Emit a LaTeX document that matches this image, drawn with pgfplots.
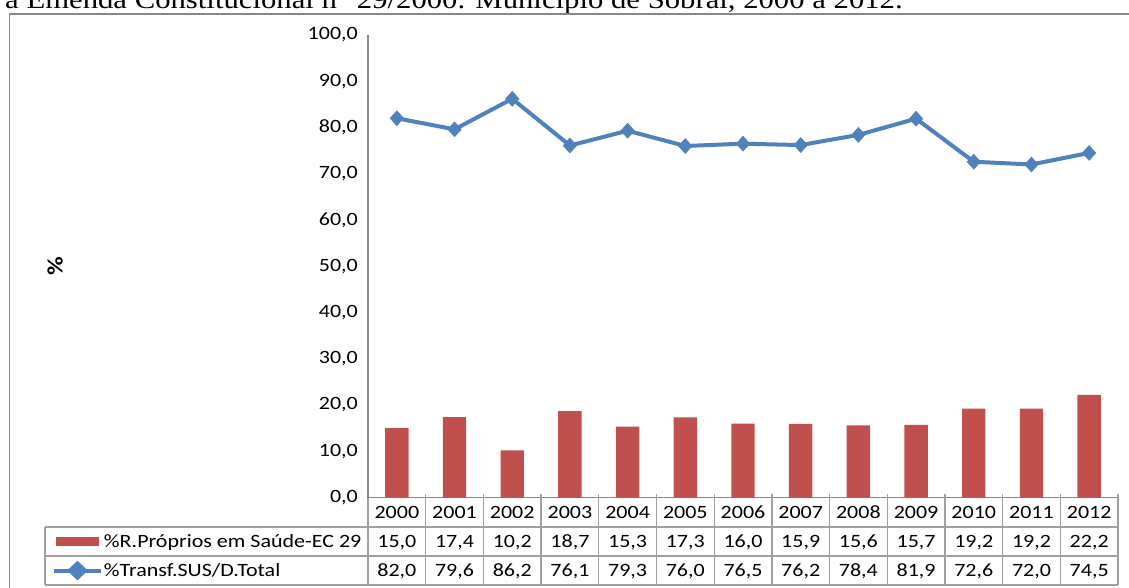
\documentclass[border=0pt]{standalone}
\usepackage{fontspec}
\setmainfont{Carlito}[FakeStretch=1.17]
\newfontfamily\titlefont{Liberation Serif}[FakeStretch=1.15]
\usepackage{pgfplots}
\usepackage{pgfplotstable}
\pgfplotsset{compat=1.18}
\definecolor{barred}{HTML}{C0504D}
\definecolor{lineblue}{HTML}{4F81BD}
\definecolor{axgray}{HTML}{878787}
\definecolor{tabgray}{HTML}{A0A0A0}

\pgfplotstableread{
x year rp ts
0 2000 15.0 82.0
1 2001 17.4 79.6
2 2002 10.2 86.2
3 2003 18.7 76.1
4 2004 15.3 79.3
5 2005 17.3 76.0
6 2006 16.0 76.5
7 2007 15.9 76.2
8 2008 15.6 78.4
9 2009 15.7 81.9
10 2010 19.2 72.6
11 2011 19.2 72.0
12 2012 22.2 74.5
}\datatable

\begin{document}
\begin{tikzpicture}
\useasboundingbox (0,0) rectangle (1129pt,-588pt);
\clip (0,0) rectangle (1129pt,-588pt);
\node[anchor=base west, inner sep=0pt, font=\titlefont\fontsize{26.7}{30}\selectfont] at (5pt,-9pt) {a Emenda Constitucional n° 29/2000. Município de Sobral, 2000 a 2012.};
\draw[axgray, line width=1.3pt] (9.5pt,-14pt) rectangle (1145pt,-600pt);
\begin{axis}[
  at={(368pt,-497.5pt)}, anchor=south west,
  scale only axis, width=750pt, height=462.5pt,
  xmin=-0.5, xmax=12.5, ymin=0, ymax=100,
  axis lines=left, axis line style={-, draw=axgray, line width=1.3pt},
  major tick length=0pt,
  ytick={0,10,...,100},
  yticklabel style={/pgf/number format/fixed, /pgf/number format/fixed zerofill, /pgf/number format/precision=1, /pgf/number format/use comma, /pgf/number format/1000 sep={}, /pgf/number format/assume math mode=true,
    font=\fontsize{18.8}{22}\selectfont, anchor=east, inner sep=0pt, xshift=-10pt},
  xtick={0,...,12},
  xticklabels={{2000\\15,0\\82,0},{2001\\17,4\\79,6},{2002\\10,2\\86,2},{2003\\18,7\\76,1},{2004\\15,3\\79,3},{2005\\17,3\\76,0},{2006\\16,0\\76,5},{2007\\15,9\\76,2},{2008\\15,6\\78,4},{2009\\15,7\\81,9},{2010\\19,2\\72,6},{2011\\19,2\\72,0},{2012\\22,2\\74,5}},
  xticklabel style={font=\fontsize{18.8}{29}\selectfont, text width=57pt, align=center, anchor=base, inner sep=0pt, yshift=-20.9pt},
  ylabel={\bfseries\%},
  ylabel style={at={(axis description cs:-0.4173,0.5)}, anchor=center, font=\fontsize{22}{24}\selectfont},
  clip=false,
  legend style={at={(axis description cs:-0.4307,-0.0638)}, anchor=north west, draw=none, fill=none, inner sep=0pt, outer sep=0pt, row sep=0pt, column sep=0pt, font=\fontsize{18.8}{22}\selectfont, nodes={inner sep=0pt, outer sep=0pt, minimum height=29pt}},
  legend cell align=left,
]
\addplot[ybar, bar width=23.4pt, bar shift=0pt, fill=barred, draw=none,
  legend image code/.code={\path (0pt,0pt) (55pt,0pt); \fill[barred] (9pt,-4.5pt) rectangle (52pt,4.5pt);}]
  table[x=x, y=rp] {\datatable};
\addlegendentry{\%R.Próprios em Saúde-EC 29}
\addplot[lineblue, line width=4pt, mark=diamond*, mark size=7.5pt, mark options={solid, line width=0.5pt, xscale=1.2},
  legend image code/.code={\path (0pt,0pt) (55pt,0pt); \draw[lineblue, line width=4pt] (7pt,0pt) -- (54pt,0pt); \fill[lineblue] (30.5pt,7pt) -- (38pt,0pt) -- (30.5pt,-7pt) -- (23pt,0pt) -- cycle;}]
  table[x=x, y=ts] {\datatable};
\addlegendentry{\%Transf.SUS/D.Total}
\end{axis}
\begin{scope}[tabgray, line width=1.3pt]
\draw (45pt,-527pt) -- (1118pt,-527pt);
\draw (45pt,-556pt) -- (1118pt,-556pt);
\draw (45pt,-585pt) -- (1118pt,-585pt);
\draw (45pt,-527pt) -- (45pt,-585pt);
\draw (368pt,-497.5pt) -- (368pt,-585pt);
\foreach \k in {1,...,13} {\draw (368pt+\k*57.692pt,-494pt) -- (368pt+\k*57.692pt,-585pt);}
\end{scope}
\end{tikzpicture}
\end{document}
